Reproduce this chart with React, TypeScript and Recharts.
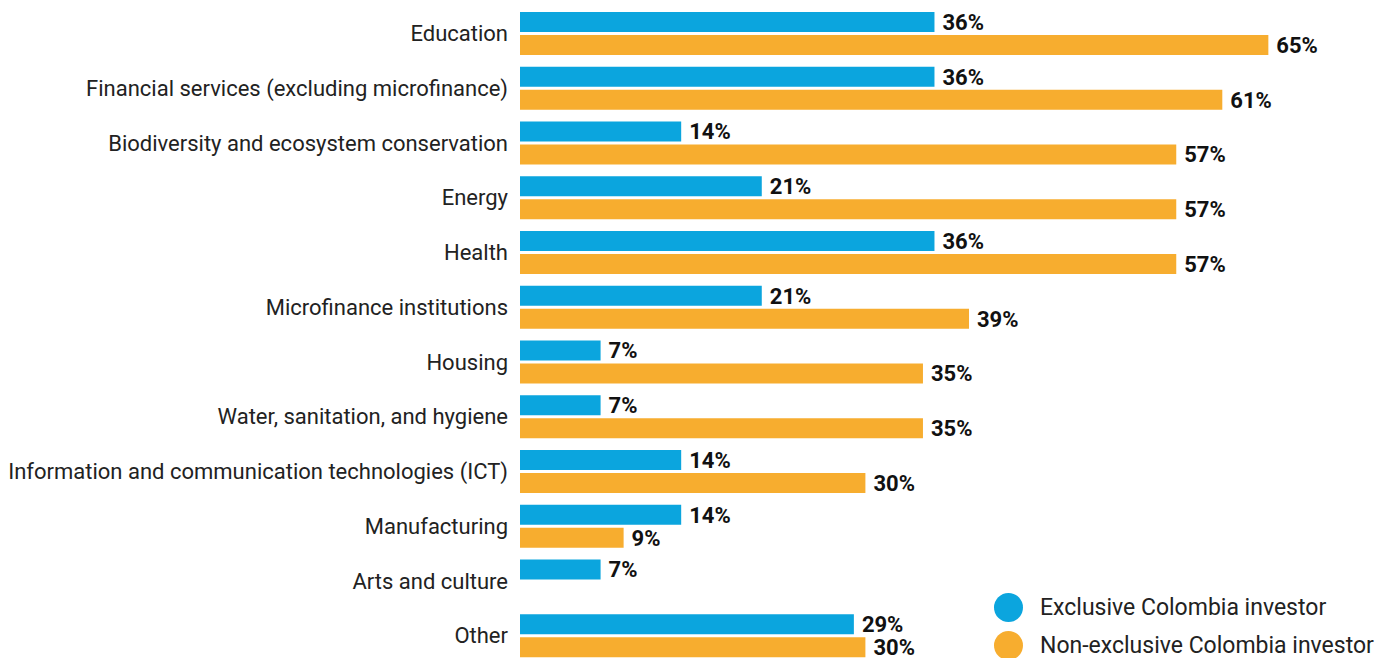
import React from "react"
import { Bar, BarChart, LabelList, XAxis, YAxis } from "recharts"

const categories = [
  "Education",
  "Financial services (excluding microfinance)",
  "Biodiversity and ecosystem conservation",
  "Energy",
  "Health",
  "Microfinance institutions",
  "Housing",
  "Water, sanitation, and hygiene",
  "Information and communication technologies (ICT)",
  "Manufacturing",
  "Arts and culture",
  "Other",
]

const exclusive = [36, 36, 14, 21, 36, 21, 7, 7, 14, 14, 7, 29]
const nonExclusive = [65, 61, 57, 57, 57, 39, 35, 35, 30, 9, 0, 30]

const seriesNames = ["Exclusive Colombia investor", "Non-exclusive Colombia investor"]
const colors = ["#0ba5de", "#f7ad2f"]

const data = categories.map((name, i) => ({
  name,
  exclusive: exclusive[i],
  nonExclusive: nonExclusive[i],
}))

const FONT = "Roboto, 'Noto Sans', sans-serif"

const fmt = (v: any) => (v ? `${v}%` : "")

const labelStyle = { fill: "#111", fontSize: 22, fontWeight: 700, fontFamily: FONT }

export default function App() {
  return (
    <div style={{ position: "absolute", left: 0, top: 0, width: 1395, height: 658, overflow: "hidden", fontFamily: FONT }}>
      <BarChart
        width={1395}
        height={664}
        data={data}
        layout="vertical"
        margin={{ top: 6, right: 0, bottom: 1, left: 0 }}
        barSize={20}
        barGap={3}
        barCategoryGap={6}
      >
        <XAxis type="number" domain={[0, 76]} hide />
        <YAxis
          type="category"
          dataKey="name"
          width={520}
          axisLine={false}
          tickLine={false}
          tickMargin={6}
          interval={0}
          tick={{ fill: "#222", fontSize: 22, fontFamily: FONT }}
        />
        <Bar dataKey="exclusive" name={seriesNames[0]} fill={colors[0]} isAnimationActive={false}>
          <LabelList dataKey="exclusive" position="right" offset={8} formatter={fmt} style={labelStyle} />
        </Bar>
        <Bar dataKey="nonExclusive" name={seriesNames[1]} fill={colors[1]} isAnimationActive={false}>
          <LabelList dataKey="nonExclusive" position="right" offset={8} formatter={fmt} style={labelStyle} />
        </Bar>
      </BarChart>
      <div style={{ position: "absolute", left: 994, top: 588 }}>
        {seriesNames.map((s, i) => (
          <div key={s} style={{ display: "flex", alignItems: "center", height: 38 }}>
            <span style={{ width: 29, height: 29, borderRadius: "50%", background: colors[i], display: "inline-block" }} />
            <span style={{ marginLeft: 17, fontSize: 23, color: "#222" }}>{s}</span>
          </div>
        ))}
      </div>
    </div>
  )
}
